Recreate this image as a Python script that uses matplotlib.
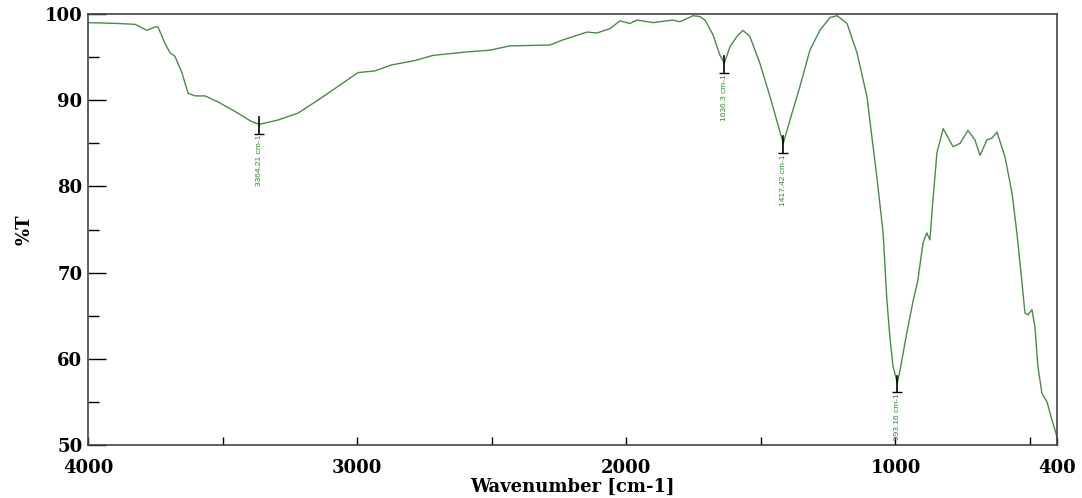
import matplotlib
matplotlib.use("Agg")
import matplotlib.pyplot as plt
from matplotlib.ticker import FixedLocator

# FT-IR spectrum (wavenumber in cm-1, %T)
wavenumber = [4000, 3889, 3825, 3781, 3751, 3740, 3714, 3695, 3677, 3651,
              3628, 3602, 3565, 3517, 3454, 3391, 3364, 3294, 3220, 3146,
              3071, 2997, 2934, 2871, 2785, 2718, 2592, 2507, 2432, 2284,
              2235, 2146, 2109, 2061, 2024, 1987, 1961, 1901, 1827, 1801,
              1752, 1726, 1708, 1678, 1652, 1636, 1615, 1589, 1567, 1541,
              1504, 1466, 1429, 1417, 1392, 1355, 1318, 1281, 1243, 1217,
              1180, 1143, 1106, 1069, 1046, 1032, 1020, 1009, 993, 983,
              958, 934, 917, 898, 884, 872, 861, 846, 823, 786,
              760, 731, 705, 686, 660, 642, 623, 593, 567, 549,
              530, 519, 508, 493, 482, 471, 456, 437, 419, 404, 400]
transmittance = [99.0, 98.9, 98.8, 98.1, 98.5, 98.5, 96.6, 95.5, 95.1, 93.2,
                 90.8, 90.5, 90.5, 89.8, 88.7, 87.5, 87.2, 87.7, 88.5, 90.0,
                 91.6, 93.2, 93.4, 94.1, 94.6, 95.2, 95.6, 95.8, 96.3, 96.4,
                 97.0, 97.9, 97.8, 98.3, 99.2, 98.9, 99.3, 99.0, 99.3, 99.1,
                 99.8, 99.7, 99.3, 97.6, 95.2, 94.3, 96.2, 97.4, 98.1, 97.4,
                 94.3, 90.4, 86.3, 85.0, 87.7, 91.6, 95.8, 98.1, 99.6, 99.8,
                 98.9, 95.5, 90.4, 81.0, 74.6, 66.8, 62.2, 59.1, 57.2, 58.7,
                 63.0, 66.8, 69.1, 73.4, 74.6, 73.8, 78.4, 83.9, 86.7, 84.6,
                 85.0, 86.5, 85.4, 83.6, 85.4, 85.6, 86.3, 83.4, 79.2, 74.6,
                 68.8, 65.3, 65.1, 65.7, 63.7, 59.1, 56.0, 55.0, 52.9, 51.4, 50.8]

# labelled peaks
peak_x = [3364.21, 1636.3, 1417.42, 993.16]
peak_y = [87.2, 94.3, 85.0, 57.2]
peak_labels = ["3364.21 cm-1", "1636.3 cm-1", "1417.42 cm-1", "993.16 cm-1"]

x_tick_values = [4000, 3000, 2000, 1000, 400]
y_tick_values = [50, 60, 70, 80, 90, 100]

fig = plt.figure(figsize=(10.82, 4.98), dpi=100)
ax = fig.add_axes([0.0813, 0.1064, 0.8956, 0.8655])

ax.plot(wavenumber, transmittance, color="#4a8a4a", linewidth=1.0)

# peak pickers: short vertical bar with a foot, label underneath
for px, py, lab in zip(peak_x, peak_y, peak_labels):
    top = py + 0.8
    bottom = py - 1.1
    ax.plot([px, px], [top, bottom], color="black", linewidth=1.2)
    ax.plot(px, bottom, marker="_", markersize=7, color="black", markeredgewidth=1.0)
    ax.text(px, bottom - 0.15, lab, rotation=90, ha="center", va="top",
            fontsize=6, color="#2e8b2e", family="Liberation Sans")

ax.set_xlim(4000, 400)
ax.set_ylim(50, 100)

serif = {"family": "DejaVu Serif", "weight": "bold", "size": 13}

ax.xaxis.set_major_locator(FixedLocator(x_tick_values))
ax.xaxis.set_minor_locator(FixedLocator([3500, 2500, 1500, 500]))
ax.yaxis.set_major_locator(FixedLocator(y_tick_values))
ax.yaxis.set_minor_locator(FixedLocator([55, 65, 75, 85, 95]))

ax.tick_params(axis="x", which="both", direction="in", length=6, width=1, pad=10)
ax.tick_params(axis="y", which="major", direction="in", length=13, width=1, pad=4)
ax.tick_params(axis="y", which="minor", direction="in", length=8, width=1)
ax.set_xticklabels([str(v) for v in x_tick_values], fontdict=serif)
ax.set_yticklabels([str(v) for v in y_tick_values], fontdict=serif)

for side in ["top", "right", "left", "bottom"]:
    ax.spines[side].set_color("#444444")
    ax.spines[side].set_linewidth(1.2)

ax.set_xlabel("Wavenumber [cm-1]", fontdict=serif, labelpad=1)
ax.set_ylabel("%T", fontdict=serif, labelpad=8)

fig.savefig("out.png", dpi=100, facecolor="white")
